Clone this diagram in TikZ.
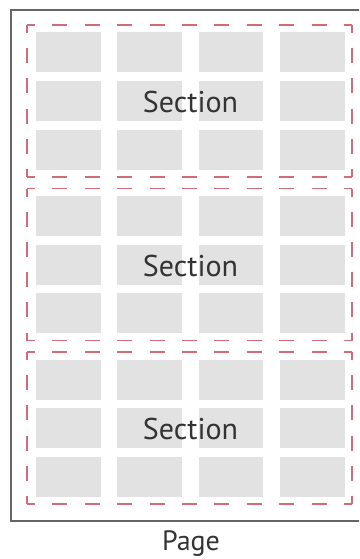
\documentclass[tikz,border=0pt]{standalone}
\usepackage{fontspec}
\setmainfont{PT Sans}
\definecolor{cellgray}{HTML}{E2E2E2}
\definecolor{dashred}{RGB}{208,108,122}
\definecolor{pageline}{HTML}{666666}
\definecolor{txt}{HTML}{333333}
\begin{document}
\begin{tikzpicture}[x=1pt,y=-1pt,
  cell/.style={fill=cellgray},
  hside/.style={draw=dashred,line width=1.8pt,dash pattern=on 15pt off 17.4pt,dash phase=7pt},
  vside/.style={draw=dashred,line width=1.8pt,dash pattern=on 15pt off 15.2pt,dash phase=7pt},
  lbl/.style={font=\fontsize{30}{30}\selectfont,text=txt,inner sep=0pt,anchor=base}]
\useasboundingbox (0,0) rectangle (359,559);
\clip (0,0) rectangle (359,559);
\draw[pageline,line width=1.6pt] (11,10) rectangle (368,521);
\foreach \t [count=\i] in {25,188.5,352}{
  \foreach \c in {36,117.3,198.6,280}{
    \foreach \r in {0,1,2}{
      \fill[cell] (\c,\t+7.5+\r*48.7) rectangle ++(64.7,40);
    }
  }
  \coordinate (s\i nw) at (27,\t);
  \coordinate (s\i ne) at (352,\t);
  \coordinate (s\i sw) at (27,\t+152);
  \coordinate (s\i se) at (352,\t+152);
  \path[hside] (s\i nw) -- (s\i ne);
  \path[hside] (s\i sw) -- (s\i se);
  \path[vside] (s\i nw) -- (s\i sw);
  \path[vside] (s\i ne) -- (s\i se);
  \node[lbl] (sec\i) at (190.5,\t+87.5) {Section};
}
\node[lbl,font=\fontsize{28}{28}\selectfont] (page) at (191,550.5) {Page};
\end{tikzpicture}
\end{document}
